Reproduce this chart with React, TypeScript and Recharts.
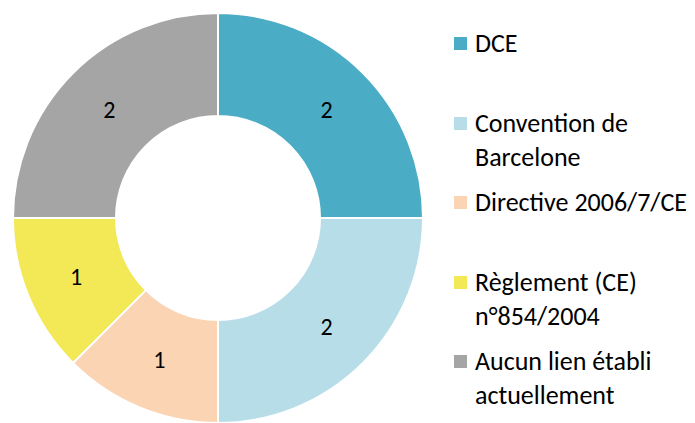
import { Cell, Legend, Pie, PieChart } from "recharts"

const categories = [
  "DCE",
  "Convention de Barcelone",
  "Directive 2006/7/CE",
  "Règlement (CE) n°854/2004",
  "Aucun lien établi actuellement",
]
const legendLines = [
  ["DCE"],
  ["Convention de", "Barcelone"],
  ["Directive 2006/7/CE"],
  ["Règlement (CE)", "n°854/2004"],
  ["Aucun lien établi", "actuellement"],
]
const values = [2, 2, 1, 1, 2]
const colors = ["#4BACC6", "#B7DDE8", "#FBD4B4", "#F3E856", "#A5A5A5"]

const data = categories.map((name, i) => ({ name, value: values[i] }))

const FONT = "Carlito, Lato, 'Open Sans', sans-serif"
const RAD = Math.PI / 180

function renderLabel(props: any) {
  const { cx, cy, midAngle, innerRadius, outerRadius, value } = props
  const r = (innerRadius + outerRadius) / 2
  const x = cx + r * Math.cos(-midAngle * RAD)
  const y = cy + r * Math.sin(-midAngle * RAD)
  return (
    <text x={x} y={y} fill="#000" fontSize={24} fontFamily={FONT} textAnchor="middle" dominantBaseline="central">
      {value}
    </text>
  )
}

function LegendBox() {
  return (
    <div style={{ fontFamily: FONT, fontSize: 26, color: "#000" }}>
      {legendLines.map((lines, i) => (
        <div key={categories[i]} style={{ height: 79.5, display: "flex", alignItems: "flex-start" }}>
          <span
            style={{
              width: 13,
              height: 13,
              background: colors[i],
              marginTop: 11,
              marginRight: 8,
              flexShrink: 0,
            }}
          />
          <div style={{ lineHeight: "34px" }}>
            {lines.map((l) => (
              <div key={l} style={{ whiteSpace: "nowrap" }}>{l}</div>
            ))}
          </div>
        </div>
      ))}
    </div>
  )
}

export default function App() {
  return (
    <div style={{ position: "absolute", left: 0, top: 0, width: 695, height: 423, background: "#fff" }}>
      <PieChart width={695} height={423} margin={{ top: 0, right: 0, bottom: 0, left: 0 }}>
        <Pie
          data={data}
          dataKey="value"
          cx={218}
          cy={218}
          innerRadius={102}
          outerRadius={205}
          startAngle={90}
          endAngle={-270}
          stroke="#fff"
          strokeWidth={2}
          label={renderLabel}
          labelLine={false}
          isAnimationActive={false}
        >
          {data.map((d, i) => (
            <Cell key={d.name} fill={colors[i]} />
          ))}
        </Pie>
        <Legend
          layout="vertical"
          content={() => <LegendBox />}
          wrapperStyle={{ left: 454, top: 26, width: 240 }}
        />
      </PieChart>
    </div>
  )
}
